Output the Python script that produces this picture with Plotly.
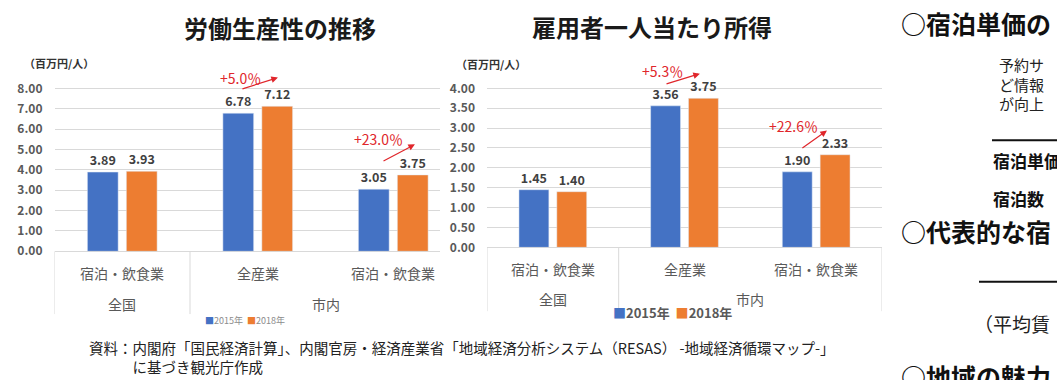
import plotly.graph_objects as go

# ---------------- data ----------------
sub_categories = ["宿泊・飲食業", "全産業", "宿泊・飲食業"]
group_labels = ["全国", "市内"]
years = ["2015年", "2018年"]

productivity_2015 = [3.89, 6.78, 3.05]
productivity_2018 = [3.93, 7.12, 3.75]
income_2015 = [1.45, 3.56, 1.90]
income_2018 = [1.40, 3.75, 2.33]

productivity_ticks = [0, 1, 2, 3, 4, 5, 6, 7, 8]
income_ticks = [0, 0.5, 1.0, 1.5, 2.0, 2.5, 3.0, 3.5, 4.0]

chart_titles = ["労働生産性の推移", "雇用者一人当たり所得"]
unit_label = "（百万円/人）"
source_lines = [
    "資料：内閣府「国民経済計算」、内閣官房・経済産業省「地域経済分析システム（RESAS） -地域経済循環マップ-」",
    "　　　に基づき観光庁作成",
]
side_headers = ["○宿泊単価の", "○代表的な宿", "○地域の魅力"]
side_body = ["予約サ", "ど情報", "が向上"]
side_bold = ["宿泊単価", "宿泊数"]
side_paren = "（平均賃"

# ---------------- style ----------------
W, H = 1057, 380
FONT = "Noto Sans CJK JP"
BLUE = "#4472C4"
ORANGE = "#ED7D31"
RED = "#E0262B"
GRID = "#D9D9D9"
DARK = "#404040"
LABEL = "#595959"


def fx(px):
    return px / W


def fy(py):
    return 1 - py / H


def paper_text(text, px, py, size, color="#222222", weight="normal", xanchor="left"):
    return dict(text=text, x=fx(px), y=fy(py), xref="paper", yref="paper",
                xanchor=xanchor, yanchor="middle", align="left", showarrow=False,
                font=dict(family=FONT, size=size, color=color, weight=weight))


x_idx = [0, 1, 2]

fig = go.Figure()

for vals, color, name, xa, ya in [
    (productivity_2015, BLUE, years[0], "x", "y"),
    (productivity_2018, ORANGE, years[1], "x", "y"),
    (income_2015, BLUE, years[0], "x2", "y2"),
    (income_2018, ORANGE, years[1], "x2", "y2"),
]:
    fig.add_trace(go.Bar(
        x=x_idx, y=vals, name=name, marker_color=color, xaxis=xa, yaxis=ya,
        text=[f"{v:.2f}" for v in vals], textposition="outside", cliponaxis=False,
        constraintext="none",
        textfont=dict(family=FONT, size=12.5, color=DARK, weight="bold"),
        showlegend=False, hoverinfo="skip",
    ))

# pixel geometry of plot areas
left_x0, left_cat, left_x1 = 54.5, 135.5, 440
left_zero_py, left_px_per_unit = 256, 20.75
right_x0, right_x1 = 487, 882
right_zero_py, right_px_per_unit = 252, 40.5
top_py = 56  # top of plot areas (room for growth labels)

left_top = (left_zero_py - top_py) / left_px_per_unit
right_top = (right_zero_py - top_py) / right_px_per_unit

axis_common = dict(showgrid=False, zeroline=False, showticklabels=False, showline=False, fixedrange=True)
yaxis_common = dict(
    showgrid=True, gridcolor=GRID, gridwidth=1, zeroline=True, zerolinecolor=GRID,
    zerolinewidth=1, showline=False, ticks="", tickformat=".2f", fixedrange=True,
    tickfont=dict(family=FONT, size=12, color=LABEL, weight="bold"), ticklabelstandoff=11,
)

fig.update_layout(
    width=W, height=H, margin=dict(l=0, r=0, t=0, b=0),
    paper_bgcolor="white", plot_bgcolor="white",
    barmode="group", bargap=0.425, bargroupgap=0.21,
    xaxis=dict(domain=[fx(left_x0), fx(left_x1)],
               range=[-0.5, -0.5 + (left_x1 - left_x0) / left_cat], **axis_common),
    yaxis=dict(domain=[fy(left_zero_py), fy(top_py)], range=[0, left_top], tickvals=productivity_ticks,
               anchor="x", **yaxis_common),
    xaxis2=dict(domain=[fx(right_x0), fx(right_x1)], range=[-0.5, 2.5], anchor="y2", **axis_common),
    yaxis2=dict(domain=[fy(right_zero_py), fy(top_py)], range=[0, right_top], tickvals=income_ticks,
                anchor="x2", **yaxis_common),
    font=dict(family=FONT),
)

ann = []
shapes = []

# titles
ann.append(paper_text(chart_titles[0], 280, 28, 24, "#1a1a1a", "bold", "center"))
ann.append(paper_text(chart_titles[1], 652, 27, 24, "#1a1a1a", "bold", "center"))
# unit labels
ann.append(paper_text(unit_label, 22, 64, 11, "#333333", "bold"))
ann.append(paper_text(unit_label, 454, 65, 11, "#333333", "bold"))

# category labels and dividers
for xr, ysub, ygrp, ybot, ytop in [("x", 278, 310, 320, 256), ("x2", 274, 305, 317, 252)]:
    for i, lab in enumerate(sub_categories):
        ann.append(dict(text=lab, x=i, y=fy(ysub), xref=xr, yref="paper", showarrow=False,
                        xanchor="center", yanchor="middle",
                        font=dict(family=FONT, size=14, color=LABEL)))
    for gx, lab in zip([0, 1.5], group_labels):
        ann.append(dict(text=lab, x=gx, y=fy(ygrp), xref=xr, yref="paper", showarrow=False,
                        xanchor="center", yanchor="middle",
                        font=dict(family=FONT, size=14, color=LABEL)))
    divs = [-0.5, 0.5] if xr == "x" else [-0.5, 0.5, 2.5]
    for d in divs:
        shapes.append(dict(type="line", xref=xr, yref="paper", x0=d, x1=d, y0=fy(ybot), y1=fy(ytop),
                           line=dict(color=GRID, width=1)))

# legends (as text)
legend_html = (f"<span style='color:{BLUE}'>■</span>{years[0]}  "
               f"<span style='color:{ORANGE}'>■</span>{years[1]}")
ann.append(paper_text(legend_html, 203, 327, 9, "#8C8C8C"))
ann.append(paper_text(legend_html, 611, 318, 13, LABEL, "bold"))


def pct(a, b):
    return f"+{(b / a - 1) * 100:.1f}％"


# growth annotations: (xref, yref, a, b, label pos, arrow tail, arrow head)
growth = [
    ("x", "y", productivity_2015[1], productivity_2018[1], (0.87, 8.53), (0.876, 7.95), (1.149, 8.53)),
    ("x", "y", productivity_2015[2], productivity_2018[2], (1.89, 5.49), (1.917, 4.39), (2.16, 5.25)),
    ("x2", "y2", income_2015[1], income_2018[1], (0.83, 4.44), (0.852, 4.10), (1.117, 4.37)),
    ("x2", "y2", income_2015[2], income_2018[2], (1.83, 3.06), (1.884, 2.47), (2.082, 2.94)),
]
for xr, yr, a, b, lp, tail, head in growth:
    ann.append(dict(text=pct(a, b), x=lp[0], y=lp[1], xref=xr, yref=yr, showarrow=False,
                    xanchor="center", yanchor="middle",
                    font=dict(family=FONT, size=14, color=RED)))
    ann.append(dict(text="", x=head[0], y=head[1], ax=tail[0], ay=tail[1], xref=xr, yref=yr,
                    axref=xr, ayref=yr, showarrow=True, arrowhead=2, arrowsize=1.1,
                    arrowwidth=1.2, arrowcolor=RED, standoff=0, startstandoff=0))

# source note (two lines, second indented)
ann.append(paper_text("<br>".join(source_lines), 87, 364, 14.5, "#222222"))

# right-side document text
for txt, py in zip(side_headers, [23, 235, 383]):
    ann.append(paper_text(txt, 899, py, 25, "#111111", "bold"))
ann.append(paper_text("<br>".join(side_body), 997, 86, 15, "#222222"))
for txt, py in zip(side_bold, [164, 202]):
    ann.append(paper_text(txt, 991, py, 17, "#111111", "bold"))
ann.append(paper_text(side_paren, 972, 330, 19, "#222222"))
shapes.append(dict(type="line", xref="paper", yref="paper", x0=fx(992), x1=1, y0=fy(143), y1=fy(143),
                   line=dict(color="#111111", width=2)))
shapes.append(dict(type="line", xref="paper", yref="paper", x0=fx(979), x1=1, y0=fy(287), y1=fy(287),
                   line=dict(color="#111111", width=2)))

fig.update_layout(annotations=ann, shapes=shapes)

fig.write_html("out.html", config={"displayModeBar": False},
               post_script="document.body.style.margin='0';document.body.style.overflow='hidden';")
